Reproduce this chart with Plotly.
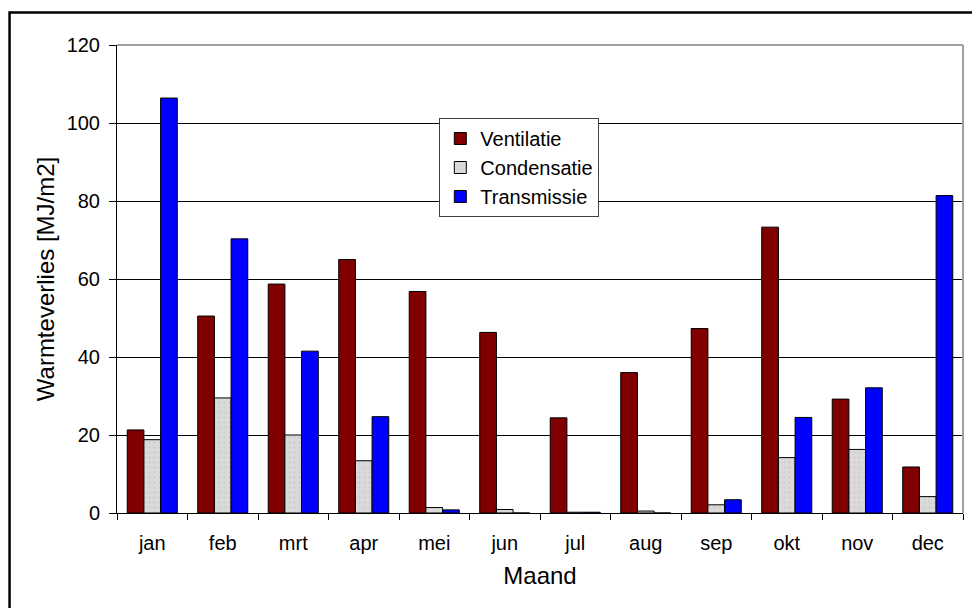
import plotly.graph_objects as go

maanden = ["jan", "feb", "mrt", "apr", "mei", "jun", "jul", "aug", "sep", "okt", "nov", "dec"]
ventilatie = [21.3, 50.5, 58.7, 65.0, 56.8, 46.3, 24.4, 36.0, 47.3, 73.3, 29.2, 11.8]
condensatie = [18.8, 29.5, 20.0, 13.4, 1.4, 0.9, 0.2, 0.5, 2.1, 14.2, 16.3, 4.2]
transmissie = [106.4, 70.3, 41.5, 24.7, 0.8, 0.0, 0.2, 0.0, 3.4, 24.5, 32.1, 81.4]

FONT = "Liberation Sans, Arial, sans-serif"
outline = dict(color="black", width=1)

fig = go.Figure()
fig.add_trace(go.Bar(x=maanden, y=ventilatie, name="Ventilatie",
                     marker=dict(color="#800000", line=outline)))
fig.add_trace(go.Bar(x=maanden, y=condensatie, name="Condensatie",
                     marker=dict(color="#DADADA", line=outline,
                                 pattern=dict(shape=".", fgcolor="#B8B8B8",
                                              size=5, solidity=0.15))))
fig.add_trace(go.Bar(x=maanden, y=transmissie, name="Transmissie",
                     marker=dict(color="#0000FF", line=outline)))

# page body has an 8px margin, so the figure is a bit smaller and offset
fig.update_layout(
    width=972, height=600,
    margin=dict(l=109, r=17, t=37, b=95),
    paper_bgcolor="white", plot_bgcolor="white",
    font=dict(family=FONT, size=20, color="black"),
    barmode="group", bargap=0.29, bargroupgap=0,
    showlegend=True,
    legend=dict(x=0.381, y=0.844, xanchor="left", yanchor="top",
                bgcolor="white", bordercolor="#404040", borderwidth=1,
                font=dict(size=20), tracegroupgap=0, itemwidth=30),
    shapes=[
        # outer chart border (cropped on right/bottom)
        dict(type="rect", xref="paper", yref="paper",
             x0=-0.127, x1=1.05, y0=-0.3, y1=1.0694,
             line=dict(color="black", width=2.5)),
        # plot area border top/right (grey)
        dict(type="line", xref="paper", yref="paper", x0=0, x1=1, y0=1, y1=1,
             line=dict(color="#A0A0A0", width=2), layer="above"),
        dict(type="line", xref="paper", yref="paper", x0=1, x1=1, y0=0, y1=1,
             line=dict(color="#A0A0A0", width=2), layer="above"),
    ],
)
fig.update_xaxes(
    title=dict(text="Maand", standoff=14),
    showline=True, linecolor="black", linewidth=1,
    ticks="outside", tickson="boundaries", ticklen=6, tickcolor="black",
    ticklabelstandoff=12, showgrid=False,
)
fig.update_yaxes(
    title=dict(text="Warmteverlies [MJ/m2]", standoff=5),
    range=[0, 120], dtick=20,
    showline=True, linecolor="black", linewidth=1,
    ticks="outside", ticklen=7, tickcolor="black", ticklabelstandoff=5,
    showgrid=True, gridcolor="black", gridwidth=1, zeroline=False,
)

fig.write_html("out.html")
